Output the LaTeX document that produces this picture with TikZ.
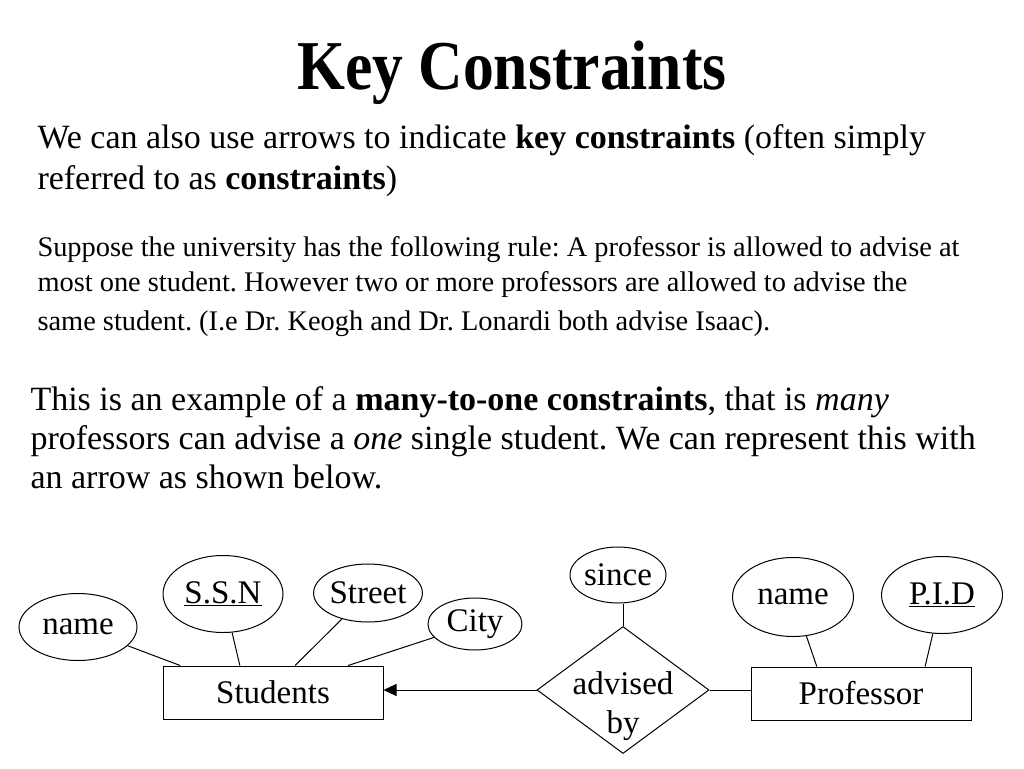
\documentclass[tikz,border=0pt]{standalone}
\usepackage{fontspec}
\setmainfont{Liberation Serif}
\newfontfamily\titlefam[FakeStretch=0.88]{Liberation Serif}
\usetikzlibrary{arrows.meta,positioning,calc,shapes.geometric}
\newcommand{\titlefont}{\titlefam\fontsize{70}{80}\bfseries\selectfont}
\newcommand{\bodyfont}{\fontsize{34}{40}\selectfont}
\newcommand{\notefont}{\fontsize{28.4}{34}\selectfont}
\newcommand{\erfont}{\fontsize{33}{39}\selectfont}
\frenchspacing

\tikzset{
  entity/.style={draw, rectangle, minimum width=220, minimum height=53, inner sep=0pt, font=\erfont},
  attr/.style={draw, ellipse, inner sep=0pt, font=\erfont},
  rel/.style={draw, diamond, minimum width=172, minimum height=127, inner sep=0pt},
  txt/.style={anchor=base west, inner sep=0pt},
}

\begin{document}
\begin{tikzpicture}[x=1pt, y=-1pt, line width=1pt]
  \useasboundingbox (0,0) rectangle (1024,768);
  % heading and text
  \node[inner sep=0pt, anchor=base, font=\titlefont] (title) at (512,89) {Key Constraints};
  \node[txt, font=\bodyfont] (introA) at (37,148) {We can also use arrows to indicate \textbf{key constraints} (often simply};
  \node[txt, font=\bodyfont] (introB) at (37,189) {referred to as \textbf{constraints})};
  \node[txt, font=\notefont] (ruleA) at (37,256) {Suppose the university has the following rule: A professor is allowed to advise at};
  \node[txt, font=\notefont] (ruleB) at (37,291) {most one student. However two or more professors are allowed to advise the};
  \node[txt, font=\notefont] (ruleC) at (37,330) {same student. (I.e Dr. Keogh and Dr. Lonardi both advise Isaac).};
  \node[txt, font=\bodyfont] (exA) at (30,410) {This is an example of a \textbf{many-to-one constraints}, that is \textit{many}};
  \node[txt, font=\bodyfont] (exB) at (30,449) {professors can advise a \textit{one} single student. We can represent this with};
  \node[txt, font=\bodyfont] (exC) at (30,488) {an arrow as shown below.};

  % ER diagram
  \node[entity] (stud) at (273,692.5) {Students};
  \node[attr, minimum width=118, minimum height=67] (sname) at (78,627) {name};
  \node[attr, minimum width=120, minimum height=77] (ssn) at (223,594) {\underline{S.S.N}};
  \node[attr, minimum width=103, minimum height=58] (street) at (368,593) {Street};
  \node[attr, minimum width=94, minimum height=52] (city) at (475,624) {City};

  \node[rel] (adv) at (623,690) {};
  \node[inner sep=0pt, align=center, font=\erfont] (advtxt) at (623,706) {advised\\by};
  \node[attr, minimum width=96, minimum height=56] (since) at (618,575) {since};

  \node[entity] (prof) at (861,693.5) {Professor};
  \node[attr, minimum width=121, minimum height=79] (pname) at (793,597) {name};
  \node[attr, minimum width=121, minimum height=77] (pid) at (942,595) {\underline{P.I.D}};

  \draw (sname) -- ($(stud.north west)!0.08!(stud.north east)$);
  \draw (ssn) -- ($(stud.north west)!0.35!(stud.north east)$);
  \draw (street) -- ($(stud.north west)!0.6!(stud.north east)$);
  \draw (city) -- ($(stud.north west)!0.84!(stud.north east)$);
  \draw[-{Triangle[length=13,width=12]}] (adv.west) -- (adv.west -| stud.east);
  \draw (adv.north) -- (adv.north |- since.south);
  \draw (adv.east) -- (adv.east -| prof.west);
  \draw (pname) -- ($(prof.north west)!0.3!(prof.north east)$);
  \draw (pid) -- ($(prof.north west)!0.79!(prof.north east)$);
\end{tikzpicture}
\end{document}
